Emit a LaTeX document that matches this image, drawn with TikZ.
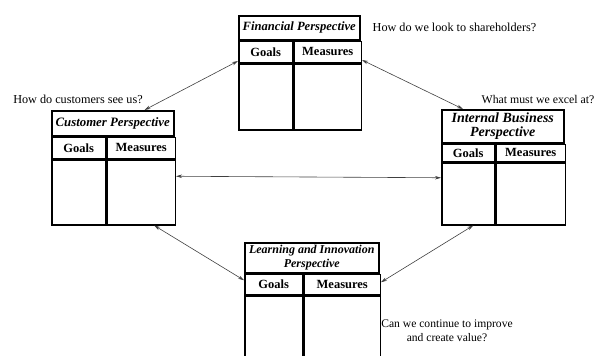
\documentclass[tikz,border=0pt]{standalone}
\usepackage{fontspec}
\setmainfont{Liberation Serif}
\usepackage{tikz}
\usetikzlibrary{arrows.meta,positioning}

\begin{document}
\begin{tikzpicture}[
    x=1pt,y=-1pt,
    titlebox/.style={draw,line width=1.5pt,anchor=north west,align=center,inner sep=1pt,font=\fontsize{#1}{14}\selectfont\bfseries\itshape},
    headbox/.style={draw,line width=1.5pt,anchor=north west,inner sep=0pt,minimum height=21pt,font=\fontsize{12.5}{14}\selectfont\bfseries},
    cellbox/.style={draw,line width=1.5pt,anchor=north west,inner sep=0pt},
    link/.style={{Stealth[length=6pt,width=3.5pt]}-{Stealth[length=6pt,width=3.5pt]},line width=0.6pt,black!75},
    question/.style={font=\fontsize{#1}{14}\selectfont,align=center,inner sep=0pt},
    question/.default=12.2
]
\clip (0,0) rectangle (597,356);

% financial
\node[titlebox=12.6,minimum width=121pt,minimum height=24pt] (fin) at (238,15) {Financial Perspective};
\node[headbox,minimum width=54pt] (fing) at (fin.south west) {Goals};
\node[headbox,minimum width=67pt] (finm) at (fing.north east) {Measures};
\node[cellbox,minimum width=54pt,minimum height=66pt] (finbg) at (fing.south west) {};
\node[cellbox,minimum width=67pt,minimum height=66pt] (finbm) at (finm.south west) {};

% customer
\node[titlebox=12.8,minimum width=122pt,minimum height=25pt] (cus) at (51,110) {Customer Perspective};
\node[headbox,minimum width=54pt] (cusg) at (cus.south west) {Goals};
\node[headbox,minimum width=68pt] (cusm) at (cusg.north east) {Measures};
\node[cellbox,minimum width=54pt,minimum height=65pt] (cusbg) at (cusg.south west) {};
\node[cellbox,minimum width=68pt,minimum height=65pt] (cusbm) at (cusm.south west) {};

% internal business
\node[titlebox=14,minimum width=122pt,minimum height=33pt] (int) at (441,109) {Internal Business\\Perspective};
\node[headbox,minimum width=53pt,minimum height=17pt] (intg) at (int.south west) {Goals};
\node[headbox,minimum width=69pt,minimum height=17pt] (intm) at (intg.north east) {Measures};
\node[cellbox,minimum width=53pt,minimum height=62pt] (intbg) at (intg.south west) {};
\node[cellbox,minimum width=69pt,minimum height=62pt] (intbm) at (intm.south west) {};

% learning and innovation
\node[titlebox=12,minimum width=134pt,minimum height=30pt] (lea) at (244,242) {Learning and Innovation\\Perspective};
\node[headbox,minimum width=58pt,minimum height=20pt] (leag) at (lea.south west) {Goals};
\node[headbox,minimum width=76pt,minimum height=20pt] (leam) at (leag.north east) {Measures};
\node[cellbox,minimum width=58pt,minimum height=80pt] (leabg) at (leag.south west) {};
\node[cellbox,minimum width=76pt,minimum height=80pt] (leabm) at (leam.south west) {};

% questions
\node[question,right=12pt of fin] (qfin) {How do we look to shareholders?};
\node[question] (qcus) at (78,99) {How do customers see us?};
\node[question=11.8] (qint) at (538,99) {What must we excel at?};
\node[question=11.6] (qlea) at (447,331) {Can we continue to improve\\and create value?};

% links
\draw[link] ([yshift=2pt]fing.south west) -- ([xshift=-30pt]cus.north east);
\draw[link] ([yshift=3pt]finm.south east) -- ([xshift=22pt]int.north west);
\draw[link] ([yshift=16pt]cusbm.east) -- ([yshift=16pt]intbg.west);
\draw[link] ([xshift=13pt]cusbm.south) -- ([yshift=4pt]leag.west);
\draw[link] ([xshift=5pt]intbg.south) -- ([yshift=2pt]leam.east);
\end{tikzpicture}
\end{document}
